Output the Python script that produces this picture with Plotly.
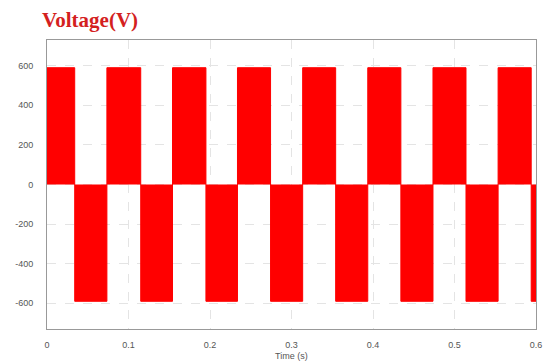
import plotly.graph_objects as go

# switching instants (s) and voltage level held from each instant (V)
switch_times = [0.0, 0.034, 0.0735, 0.115, 0.154, 0.195, 0.2337, 0.2743, 0.3137,
                0.3542, 0.3936, 0.4342, 0.4736, 0.5141, 0.5535, 0.5941, 0.6]
levels = [590, -590, 590, -590, 590, -590, 590, -590, 590,
          -590, 590, -590, 590, -590, 590, -590, -590]

x_ticks = [0, 0.1, 0.2, 0.3, 0.4, 0.5, 0.6]
x_labels = ["0", "0.1", "0.2", "0.3", "0.4", "0.5", "0.6"]
y_ticks = [600, 400, 200, 0, -200, -400, -600]
y_labels = ["600", "400", "200", "0", "-200", "-400", "-600"]

fig = go.Figure()
fig.add_trace(go.Scatter(
    x=switch_times, y=levels, mode="lines", line=dict(shape="hv", color="#ff0000", width=1),
    fill="tozeroy", fillcolor="#ff0000", hoverinfo="skip", showlegend=False))

grid = dict(showgrid=True, gridcolor="#e4e4e4", griddash="dash", gridwidth=1)
fig.update_layout(
    width=544, height=363,
    margin=dict(l=47, r=8, t=40, b=34, autoexpand=False),
    paper_bgcolor="white", plot_bgcolor="white",
    font=dict(family="Liberation Sans, Arial", size=9, color="#555555"),
    xaxis=dict(range=[0, 0.6], tickvals=x_ticks, ticktext=x_labels, **grid,
               zeroline=False, showline=True, linecolor="#999999", mirror=True,
               ticks="", ticklabelstandoff=7, automargin=False),
    yaxis=dict(range=[-730, 730], tickvals=y_ticks, ticktext=y_labels, **grid,
               zeroline=False, showline=True, linecolor="#999999", mirror=True,
               ticks="", ticklabelstandoff=11, automargin=False),
    annotations=[
        dict(text="<b>Voltage(V)</b>", xref="paper", yref="paper",
             x=-0.014, y=1.0, yshift=20, xanchor="left", yanchor="middle", showarrow=False,
             font=dict(family="Liberation Serif, Times New Roman", size=21, color="#d41f1f")),
        dict(text="Time (s)", xref="paper", yref="paper", x=0.5, y=0, yshift=-20,
             xanchor="center", yanchor="top", showarrow=False,
             font=dict(family="Liberation Sans, Arial", size=9, color="#555555")),
    ],
)
fig.write_html("out.html", config={"displayModeBar": False},
               post_script="document.body.style.margin='0';document.body.style.overflow='hidden';")
